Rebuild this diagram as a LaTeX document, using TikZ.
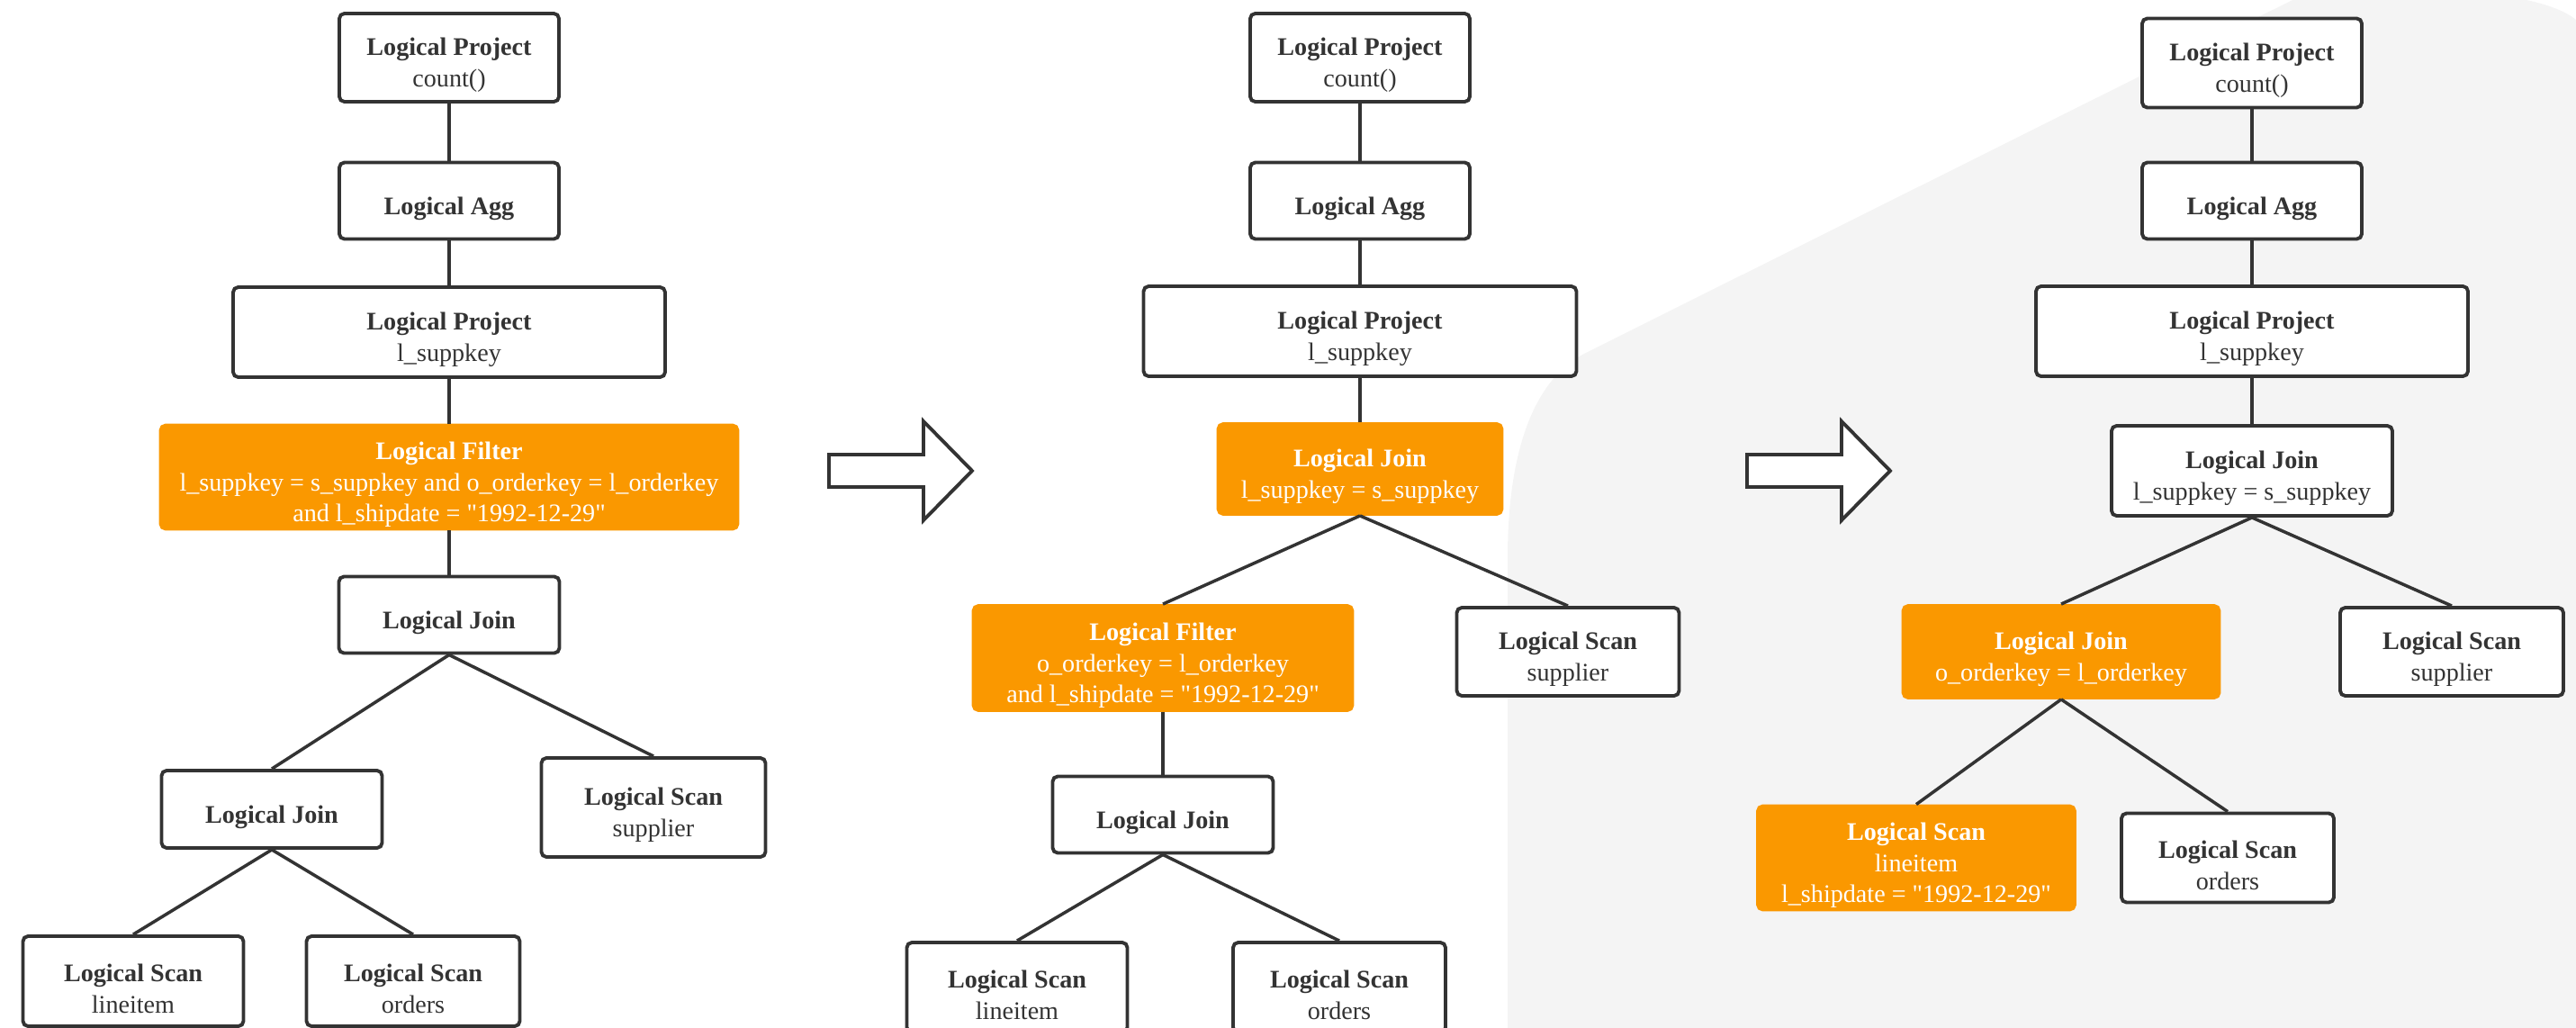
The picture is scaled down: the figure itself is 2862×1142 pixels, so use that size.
\documentclass[tikz,border=0pt]{standalone}
\usepackage{fontspec}
\setmainfont{Liberation Serif}
\usepackage{tikz}

\definecolor{ink}{HTML}{333333}
\definecolor{hotorange}{RGB}{250,152,0}
\definecolor{bggray}{HTML}{F4F4F4}

\tikzset{
	op/.style={draw=ink, line width=1.1pt, rounded corners=1.6pt, fill=white, text=ink,
		align=center, inner sep=0pt, font=\fontsize{8pt}{9.8pt}\selectfont},
	hot/.style={op, draw=hotorange, fill=hotorange, text=white},
	sz/.style 2 args={minimum width=#1*0.01cm, minimum height=#2*0.01cm},
	link/.style={draw=ink, line width=1pt},
	bigarrow/.style={draw=ink, line width=1.1pt, fill=white},
}
\newcommand{\head}[1]{\rule{0pt}{10.3pt}\textbf{#1}}
\newcommand{\shipdate}{l\_shipdate = \textquotedbl 1992-12-29\textquotedbl}

\begin{document}
\begin{tikzpicture}[x=0.01cm, y=-0.01cm]
					\useasboundingbox (0,0) rectangle (2862,1142);
					\clip (0,0) rectangle (2862,1142);
					% Background
					\fill[bggray] (1675,1142) -- (1675,620) .. controls (1675,480) and (1715,416) .. (1760,393)
						-- (2547,0) -- (2807,0) .. controls (2830,5) and (2850,12) .. (2862,22) -- (2862,1142) -- cycle;
					% Plan before
					\node[op, sz={244}{98}] (p1a) at (499,64) {\head{Logical Project}\\count()};
					\node[op, sz={244}{85}] (agg1) at (499,223) {\head{Logical Agg}};
					\node[op, sz={480}{100}] (p1b) at (499,369) {\head{Logical Project}\\l\_suppkey};
					\node[hot, sz={641}{115}] (flt1) at (499,530) {\head{Logical Filter}\\l\_suppkey = s\_suppkey and o\_orderkey = l\_orderkey\\and \shipdate};
					\node[op, sz={245}{85}] (jn1) at (499,683) {\head{Logical Join}};
					\node[op, sz={245}{86}] (jn1b) at (302,899) {\head{Logical Join}};
					\node[op, sz={249}{110}] (sup1) at (726,897) {\head{Logical Scan}\\supplier};
					\node[op, sz={245}{100}] (li1) at (148,1090) {\head{Logical Scan}\\lineitem};
					\node[op, sz={237}{100}] (ord1) at (459,1090) {\head{Logical Scan}\\orders};
					\draw[link] (p1a) -- (agg1) (agg1) -- (p1b) (p1b) -- (flt1) (flt1) -- (jn1);
					\draw[link] (jn1.south) -- (jn1b.north) (jn1.south) -- (sup1.north);
					\draw[link] (jn1b.south) -- (li1.north) (jn1b.south) -- (ord1.north);
					% Plan after first push down
					\node[op, sz={244}{98}] (p2a) at (1511,64) {\head{Logical Project}\\count()};
					\node[op, sz={244}{85}] (agg2) at (1511,223) {\head{Logical Agg}};
					\node[op, sz={481}{100}] (p2b) at (1511,368) {\head{Logical Project}\\l\_suppkey};
					\node[hot, sz={315}{100}] (jn2) at (1511,521) {\head{Logical Join}\\l\_suppkey = s\_suppkey};
					\node[hot, sz={421}{116}] (flt2) at (1292,731) {\head{Logical Filter}\\o\_orderkey = l\_orderkey\\and \shipdate};
					\node[op, sz={247}{98}] (sup2) at (1742,724) {\head{Logical Scan}\\supplier};
					\node[op, sz={245}{85}] (jn2b) at (1292,905) {\head{Logical Join}};
					\node[op, sz={245}{100}] (li2) at (1130,1097) {\head{Logical Scan}\\lineitem};
					\node[op, sz={236}{100}] (ord2) at (1488,1097) {\head{Logical Scan}\\orders};
					\draw[link] (p2a) -- (agg2) (agg2) -- (p2b) (p2b) -- (jn2);
					\draw[link] (jn2.south) -- (flt2.north) (jn2.south) -- (sup2.north);
					\draw[link] (flt2) -- (jn2b);
					\draw[link] (jn2b.south) -- (li2.north) (jn2b.south) -- (ord2.north);
					% Plan after second push down
					\node[op, sz={244}{99}] (p3a) at (2502,70) {\head{Logical Project}\\count()};
					\node[op, sz={244}{85}] (agg3) at (2502,223) {\head{Logical Agg}};
					\node[op, sz={480}{100}] (p3b) at (2502,368) {\head{Logical Project}\\l\_suppkey};
					\node[op, sz={312}{100}] (jn3) at (2502,523) {\head{Logical Join}\\l\_suppkey = s\_suppkey};
					\node[hot, sz={351}{102}] (jn3b) at (2290,724) {\head{Logical Join}\\o\_orderkey = l\_orderkey};
					\node[op, sz={248}{98}] (sup3) at (2724,724) {\head{Logical Scan}\\supplier};
					\node[hot, sz={352}{115}] (li3) at (2129,953) {\head{Logical Scan}\\lineitem\\\shipdate};
					\node[op, sz={236}{99}] (ord3) at (2475,953) {\head{Logical Scan}\\orders};
					\draw[link] (p3a) -- (agg3) (agg3) -- (p3b) (p3b) -- (jn3);
					\draw[link] (jn3.south) -- (jn3b.north) (jn3.south) -- (sup3.north);
					\draw[link] (jn3b.south) -- (li3.north) (jn3b.south) -- (ord3.north);
					% Arrows between plans
					\foreach \x in {921,1941}
						\draw[bigarrow] (\x,505) -- ++(105,0) -- ++(0,-37) -- ++(54,55) -- ++(-54,55) -- ++(0,-37) -- ++(-105,0) -- cycle;
\end{tikzpicture}
\end{document}
